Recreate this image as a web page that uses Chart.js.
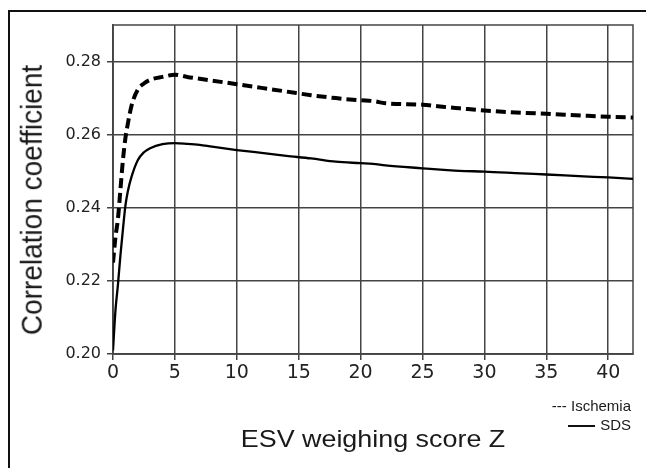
<!DOCTYPE html>
<html>
<head>
<meta charset="utf-8">
<script src="https://cdn.jsdelivr.net/npm/chart.js@4.4.1/dist/chart.umd.min.js"></script>
<style>
  body { margin: 0; background: #fff; }
  #wrap { position: relative; width: 646px; height: 468px; overflow: hidden; background: #fff; }
  #frame { position: absolute; left: 8px; top: 10px; width: 700px; height: 500px; border-left: 2px solid #111; border-top: 2px solid #111; }
  canvas { position: absolute; left: 0; top: 0; }
  .txt { position: absolute; font-family: "Liberation Sans", Arial, sans-serif; color: #1a1a1a; white-space: nowrap; }
  #ytitle { left: 32px; top: 200px; font-size: 28px; transform: translate(-50%, -50%) rotate(-90deg) scaleY(1.08); }
  #xtitle { left: 373px; top: 439px; font-size: 24px; transform: translate(-50%, -50%) scaleX(1.12); }
  #legend { right: 15px; top: 396px; font-size: 15px; text-align: right; line-height: 19px; }
  .solid { display: inline-block; width: 27px; height: 2px; background: #111; vertical-align: middle; margin-right: 5px; }
</style>
</head>
<body>
<div id="wrap">
  <div id="frame"></div>
  <canvas id="chart" width="646" height="468"></canvas>
  <div class="txt" id="ytitle">Correlation coefficient</div>
  <div class="txt" id="xtitle">ESV weighing score Z</div>
  <div class="txt" id="legend">--- Ischemia<br><span class="solid"></span>SDS</div>
</div>
<script>
// ESV weighing score Z
const zScores = [0, 0.2, 0.4, 0.6, 0.8, 1.0, 1.2, 1.5, 2.0, 2.5, 3.0, 4.0, 5.0, 6.0, 7.0, 8.0,
    10, 12, 14, 16, 18, 20, 21, 22, 25, 27, 28, 30, 33, 35, 38, 40, 42];

// correlation coefficients
const ischemia = [0.225, 0.232, 0.237, 0.245, 0.253, 0.259, 0.263, 0.268, 0.2723, 0.274, 0.275, 0.2758, 0.2764, 0.2758, 0.2753, 0.2748,
    0.2738, 0.2728, 0.2718, 0.2708, 0.2700, 0.2694, 0.2692, 0.2686, 0.2682, 0.2675, 0.2672, 0.2666, 0.2660, 0.2657, 0.2652, 0.2649, 0.2647];
const sds = [0.201, 0.212, 0.219, 0.227, 0.234, 0.2405, 0.2445, 0.2485, 0.253, 0.2552, 0.2563, 0.2574, 0.2577, 0.2575, 0.2572, 0.2567,
    0.2558, 0.2550, 0.2542, 0.2535, 0.2526, 0.2522, 0.2520, 0.2516, 0.2508, 0.2503, 0.2501, 0.2499, 0.2494, 0.2491, 0.2486, 0.2483, 0.2479];

const xTickValues = [0, 5, 10, 15, 20, 25, 30, 35, 40];
const yTickValues = [0.20, 0.22, 0.24, 0.26, 0.28];

const toPoints = (ys) => zScores.map((z, i) => ({ x: z, y: ys[i] }));

// box round the plot area
const plotBox = {
    id: 'plotBox',
    beforeDatasetsDraw(chart) {
        const a = chart.chartArea;
        const ctx = chart.ctx;
        ctx.save();
        ctx.strokeStyle = '#444';
        ctx.lineWidth = 1.5;
        ctx.strokeRect(a.left, a.top, a.right - a.left, a.bottom - a.top);
        ctx.restore();
    }
};

new Chart(document.getElementById('chart'), {
    type: 'line',
    data: {
        datasets: [
            {
                label: 'Ischemia',
                data: toPoints(ischemia),
                borderColor: '#000',
                borderWidth: 4,
                borderDash: [10, 5],
                pointRadius: 0,
                cubicInterpolationMode: 'monotone'
            },
            {
                label: 'SDS',
                data: toPoints(sds),
                borderColor: '#000',
                borderWidth: 2.3,
                pointRadius: 0,
                cubicInterpolationMode: 'monotone'
            }
        ]
    },
    options: {
        responsive: false,
        animation: false,
        layout: { padding: { left: 0, top: 25, right: 13, bottom: 0 } },
        plugins: {
            legend: { display: false },
            tooltip: { enabled: false }
        },
        scales: {
            x: {
                type: 'linear',
                min: 0,
                max: 42,
                afterBuildTicks: (s) => { s.ticks = xTickValues.map(v => ({ value: v })); },
                afterFit: (s) => { s.height = 114; },
                ticks: {
                    color: '#222',
                    padding: 2,
                    maxRotation: 0,
                    font: { family: 'DejaVu Sans', size: 19 }
                },
                grid: { color: '#444', lineWidth: 1.5, tickLength: 6 },
                border: { color: '#444', width: 1.5 }
            },
            y: {
                min: 0.20,
                max: 0.29,
                afterBuildTicks: (s) => { s.ticks = yTickValues.map(v => ({ value: v })); },
                afterFit: (s) => { s.width = 113; },
                ticks: {
                    color: '#222',
                    padding: 6,
                    callback: (v) => v.toFixed(2),
                    font: { family: 'DejaVu Sans', size: 16 }
                },
                grid: { color: '#444', lineWidth: 1.5, tickLength: 6 },
                border: { color: '#444', width: 1.5 }
            }
        }
    },
    plugins: [plotBox]
});
</script>
</body>
</html>
